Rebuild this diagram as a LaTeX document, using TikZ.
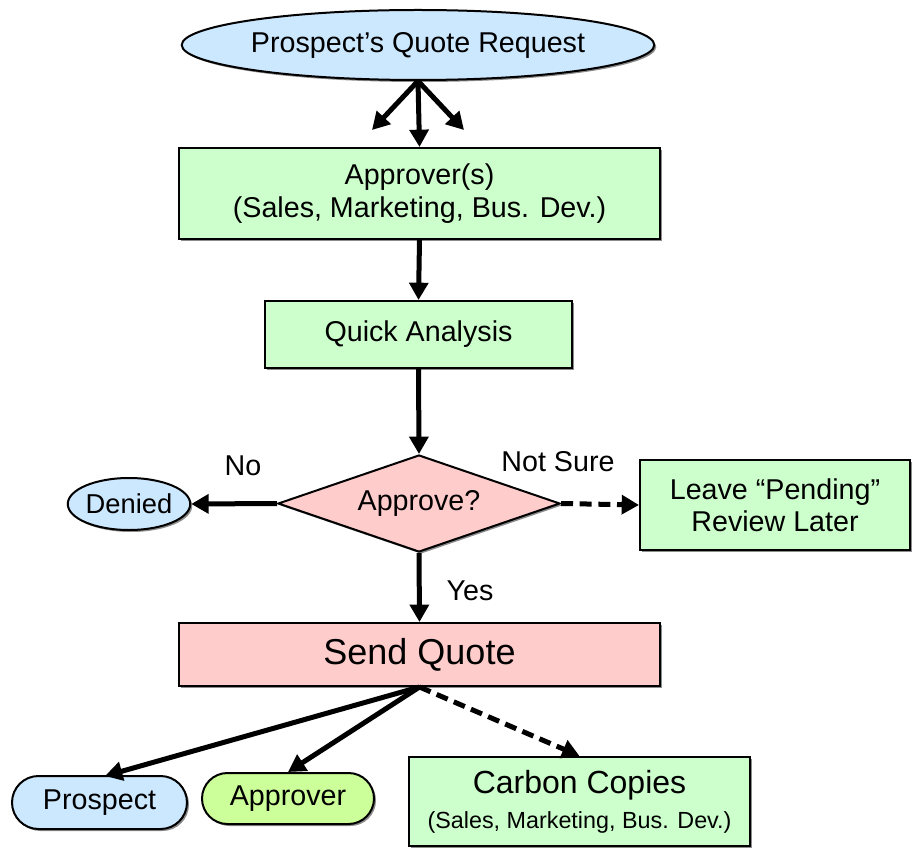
\documentclass[tikz,border=0pt]{standalone}
\usepackage{fontspec}
\setmainfont{Liberation Sans}
\usetikzlibrary{shapes.geometric,shapes.misc,arrows.meta,shadows}

\definecolor{skyfill}{HTML}{CCE8FF}
\definecolor{mintfill}{HTML}{CCFFCC}
\definecolor{rosefill}{HTML}{FFCCCC}
\definecolor{limefill}{HTML}{CCFF99}

\newcommand\setfs[2]{\fontsize{#1}{#2}\selectfont}

\tikzset{
  base/.style={draw=black, line width=1.5pt, inner sep=0pt, align=center,
    font=\setfs{21.5pt}{25pt},
    drop shadow={shadow xshift=1.5pt, shadow yshift=-1.5pt, fill=black!45, opacity=1}},
  boxnode/.style={base, rectangle, fill=mintfill},
  ovalnode/.style={base, ellipse, fill=skyfill},
  pillnode/.style={base, rounded rectangle, rounded rectangle arc length=180},
  decision/.style={base, diamond, fill=rosefill, aspect=2.9},
  flow/.style={line width=3.75pt, -{Triangle[length=13pt, width=14pt]}},
  flowdash/.style={flow, dash pattern=on 9pt off 5pt},
  lbl/.style={font=\setfs{21.5pt}{25pt}, inner sep=0pt}
}

\begin{document}
\begin{tikzpicture}[x=0.75pt, y=-0.75pt]
\useasboundingbox (0,0) rectangle (912,848);

% nodes
\node[ovalnode, minimum width=427*0.75pt, minimum height=70*0.75pt] (req) at (418,45) {Prospect’s Quote Request};
\node[boxnode, minimum width=481*0.75pt, minimum height=91*0.75pt] (appr) at (419.5,193.5) {Approver(s)\\(Sales, Marketing, Bus. Dev.)};
\node[boxnode, minimum width=307*0.75pt, minimum height=67*0.75pt] (quick) at (418.5,334.5) {Quick Analysis};
\node[decision, minimum width=282*0.75pt, minimum height=97*0.75pt] (dec) at (419,503.5) {Approve?};
\node[ovalnode, minimum width=108*0.75pt, minimum height=52*0.75pt, font=\setfs{20.5pt}{24pt}] (denied) at (129,504) {Denied};
\node[boxnode, minimum width=270*0.75pt, minimum height=90*0.75pt, font=\setfs{21.5pt}{24pt}] (pend) at (775,505) {Leave “Pending”\\Review Later};
\node[boxnode, fill=rosefill, minimum width=481*0.75pt, minimum height=63*0.75pt, font=\setfs{27pt}{32pt}] (send) at (419.5,654.5) {Send Quote};
\node[pillnode, fill=skyfill, minimum width=175*0.75pt, minimum height=53*0.75pt] (prospect) at (99.5,802.5) {Prospect};
\node[pillnode, fill=limefill, minimum width=172*0.75pt, minimum height=51*0.75pt] (apprv) at (288,798.5) {Approver};
\node[boxnode, minimum width=341*0.75pt, minimum height=89*0.75pt] (cc) at (579.5,801.5)
  {{\setfs{24pt}{27pt}Carbon Copies}\\[1pt]{\setfs{17.5pt}{21pt}(Sales, Marketing, Bus. Dev.)}};

% free ends of the fan-out arrows
\coordinate (fanL) at (372,130);
\coordinate (fanR) at (464,130);
\coordinate (pTip) at (105,776);

% connectors
\draw[flow] (req.south) -- (fanL);
\draw[flow] (req.south) -- (appr.north);
\draw[flow] (req.south) -- (fanR);
\draw[flow] (appr.south) -- (quick.north);
\draw[flow] (quick.south) -- (dec.north);
\draw[flow] (dec.west) -- (denied.east);
\draw[flowdash] (dec.east) -- (pend.west);
\draw[flow] (dec.south) -- (send.north);
\draw[flow] (send.south) -- (pTip);
\draw[flow] (send.south) -- (apprv.north);
\draw[flowdash] (send.south) -- (cc.north);

% branch labels
\node[lbl] (lno) at (243,466) {No};
\node[lbl] (lns) at (558,462) {Not Sure};
\node[lbl] (lyes) at (470,591) {Yes};
\end{tikzpicture}
\end{document}
